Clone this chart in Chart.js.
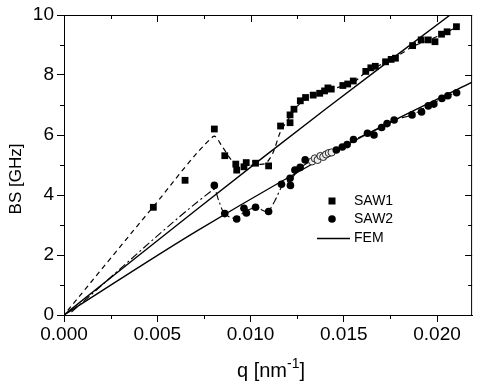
<!DOCTYPE html>
<html><head><meta charset="utf-8">
<script src="https://cdn.jsdelivr.net/npm/chart.js@4/dist/chart.umd.min.js"></script>
<style>html,body{margin:0;padding:0;background:#fff;overflow:hidden}</style>
</head><body>
<canvas id="c" width="477" height="388"></canvas>
<script>
// ---- data ----
const saw1Q  = [0.00479,0.00649,0.00806,0.00862,0.00921,0.00926,0.00965,0.00977,0.01027,0.01097,0.01161,0.01212,0.01212,0.01233,0.01267,0.01295,0.01336,0.01371,0.01397,0.01415,0.01433,0.01495,0.01521,0.01551,0.01618,0.01645,0.01669,0.01724,0.01754,0.01777,0.01869,0.01915,0.01953,0.01989,0.02024,0.02054,0.02104];
const saw1BS = [3.59,4.49,6.20,5.31,5.03,4.83,4.94,5.08,5.06,4.97,6.30,6.41,6.67,6.86,7.14,7.25,7.33,7.39,7.47,7.57,7.53,7.65,7.70,7.80,8.12,8.24,8.29,8.44,8.52,8.56,8.98,9.17,9.17,9.11,9.36,9.44,9.61];
const saw2Q  = [0.00806,0.00862,0.00926,0.00965,0.00978,0.01027,0.01097,0.01166,0.01214,0.01212,0.01238,0.01266,0.01293,0.01460,0.01492,0.01518,0.01552,0.01627,0.01662,0.01703,0.01732,0.01770,0.01866,0.01917,0.01953,0.01983,0.02026,0.02058,0.02105];
const saw2BS = [4.32,3.38,3.20,3.56,3.40,3.59,3.45,4.36,4.32,4.56,4.83,4.92,5.17,5.50,5.60,5.68,5.85,6.06,6.00,6.25,6.38,6.50,6.67,6.77,6.97,7.03,7.22,7.31,7.41];
const saw2OpenQ  = [0.01330,0.01345,0.01360,0.01375,0.01390,0.01405,0.01420,0.01435];
const saw2OpenBS = [5.12,5.22,5.17,5.30,5.27,5.35,5.40,5.42];
const femAQ  = [0, 0.0072, 0.0141, 0.0207, 0.0219];
const femABS = [0, 3.56, 6.90, 10.0, 10.55];
const femBQ  = [0, 0.0072, 0.0157, 0.02188];
const femBBS = [0, 2.83, 5.85, 7.76];
const guide1Q  = [0.0002,0.0048,0.0080,0.0085,0.0090,0.0095,0.0103,0.0108,0.0112,0.0116,0.0120,0.0125,0.0130,0.0137,0.0143,0.0155,0.0162,0.0170,0.0178,0.0187,0.0195,0.0205,0.0212];
const guide1BS = [0.15,3.62,5.95,5.60,5.15,4.95,5.02,5.05,5.40,6.10,6.50,6.95,7.22,7.38,7.52,7.75,8.10,8.35,8.60,8.95,9.15,9.42,9.65];
const guide2Q  = [0.0004,0.0080,0.0083,0.0086,0.0092,0.0097,0.0103,0.0109,0.0113,0.0117,0.0122,0.0127,0.0133,0.0140,0.0146,0.0155,0.0163,0.0170,0.0177,0.0187,0.0195,0.0203,0.0211];
const guide2BS = [0.10,4.18,3.80,3.38,3.22,3.45,3.58,3.45,3.80,4.30,4.55,4.92,5.15,5.32,5.50,5.82,6.06,6.25,6.50,6.68,6.97,7.22,7.45];
const xTicks = [0, 0.005, 0.010, 0.015, 0.020];
const xMinor = [0.0025, 0.0075, 0.0125, 0.0175];
const yTicks = [0, 2, 4, 6, 8, 10];
const yMinor = [1, 3, 5, 7, 9];
const legendLabels = ['SAW1', 'SAW2', 'FEM'];

const FONT = '"Liberation Sans", Arial, sans-serif';
const pts = (q, v) => q.map((x, i) => ({x, y: v[i]}));

const framePlugin = {
  id: 'frame',
  afterDraw(chart) {
    const ctx = chart.ctx, a = chart.chartArea;
    const xs = chart.scales.x, ys = chart.scales.y;
    ctx.save();
    ctx.strokeStyle = '#000'; ctx.lineWidth = 1;
    ctx.beginPath();
    ctx.moveTo(a.left, a.top + 0.5); ctx.lineTo(a.right, a.top + 0.5);
    ctx.moveTo(a.right - 0.5, a.top); ctx.lineTo(a.right - 0.5, a.bottom);
    xMinor.forEach(v => { const p = Math.round(xs.getPixelForValue(v)) + 0.5;
      ctx.moveTo(p, a.bottom); ctx.lineTo(p, a.bottom + 4);
      ctx.moveTo(p, a.top); ctx.lineTo(p, a.top + 4); });
    xTicks.forEach(v => { const p = Math.round(xs.getPixelForValue(v)) + 0.5;
      ctx.moveTo(p, a.top); ctx.lineTo(p, a.top + 7); });
    yMinor.forEach(v => { const p = Math.round(ys.getPixelForValue(v)) + 0.5;
      ctx.moveTo(a.left, p); ctx.lineTo(a.left - 4, p);
      ctx.moveTo(a.right, p); ctx.lineTo(a.right - 4, p); });
    yTicks.forEach(v => { const p = Math.round(ys.getPixelForValue(v)) + 0.5;
      ctx.moveTo(a.right, p); ctx.lineTo(a.right - 7, p); });
    ctx.stroke();

    // axis titles
    ctx.fillStyle = '#000';
    ctx.save();
    ctx.translate(16, 179); ctx.rotate(-Math.PI / 2);
    ctx.font = '17px ' + FONT; ctx.textAlign = 'center'; ctx.textBaseline = 'middle';
    ctx.fillText('BS [GHz]', 0, 0);
    ctx.restore();
    const base = 377;
    ctx.font = '20px ' + FONT; const w1 = ctx.measureText('q [nm').width;
    const w3 = ctx.measureText(']').width;
    ctx.font = '14px ' + FONT; const w2 = ctx.measureText('-1').width;
    let x0 = 271 - (w1 + w2 + w3) / 2;
    ctx.textAlign = 'left'; ctx.textBaseline = 'alphabetic';
    ctx.font = '20px ' + FONT; ctx.fillText('q [nm', x0, base);
    ctx.font = '14px ' + FONT; ctx.fillText('-1', x0 + w1, base - 9);
    ctx.font = '20px ' + FONT; ctx.fillText(']', x0 + w1 + w2, base);

    // legend
    const ds = chart.data.datasets;
    ctx.font = '14px ' + FONT; ctx.textBaseline = 'middle';
    const rows = [201, 219, 238];
    ctx.fillStyle = '#000';
    ctx.fillRect(332 - 3.5, rows[0] - 3.5, 7, 7);
    ctx.beginPath(); ctx.arc(332, rows[1], 3.8, 0, Math.PI * 2); ctx.fill();
    ctx.beginPath(); ctx.lineWidth = ds[3].borderWidth;
    ctx.moveTo(317, rows[2] + 0.5); ctx.lineTo(350, rows[2] + 0.5); ctx.stroke();
    legendLabels.forEach((t, i) => ctx.fillText(t, 354, rows[i]));
    ctx.restore();
  }
};

const lineDs = (label, q, v, dash, w) => ({
  label, data: pts(q, v), showLine: true, borderColor: '#000', borderWidth: w,
  borderDash: dash, pointRadius: 0, pointHoverRadius: 0, fill: false, tension: 0.3, order: 5
});

new Chart(document.getElementById('c'), {
  type: 'scatter',
  data: { datasets: [
    { label: 'SAW1', data: pts(saw1Q, saw1BS), pointStyle: 'rect', pointRadius: 4.8,
      backgroundColor: '#000', borderColor: '#000', borderWidth: 0, order: 1 },
    { label: 'SAW2', data: pts(saw2Q, saw2BS), pointStyle: 'circle', pointRadius: 3.8,
      backgroundColor: '#000', borderColor: '#000', borderWidth: 0, order: 1 },
    { label: 'SAW2 open', data: pts(saw2OpenQ, saw2OpenBS), pointStyle: 'circle', pointRadius: 3.6,
      backgroundColor: '#eee', borderColor: '#111', borderWidth: 0.9, order: 2 },
    lineDs('FEM', femAQ, femABS, [], 1.4),
    lineDs('FEM2', femBQ, femBBS, [], 1.4),
    lineDs('guide1', guide1Q, guide1BS, [5, 4], 1.2),
    lineDs('guide2', guide2Q, guide2BS, [8, 3, 2, 3], 1.1)
  ]},
  options: {
    responsive: false, animation: false, devicePixelRatio: 1,
    layout: { padding: { top: 15, right: 0, left: 0, bottom: 0 } },
    plugins: { legend: { display: false }, tooltip: { enabled: false } },
    scales: {
      x: { type: 'linear', min: 0, max: 0.02188,
        afterBuildTicks: s => { s.ticks = xTicks.map(v => ({value: v})); },
        afterFit: s => { s.height = 73; },
        ticks: { callback: v => v.toFixed(3), font: { family: FONT, size: 19 }, color: '#000', padding: 1, maxRotation: 0, autoSkip: false },
        grid: { display: true, drawOnChartArea: false, drawTicks: true, tickLength: 7, color: '#000', lineWidth: 1 },
        border: { display: true, color: '#000', width: 1 } },
      y: { type: 'linear', min: 0, max: 10,
        afterBuildTicks: s => { s.ticks = yTicks.map(v => ({value: v})); },
        afterFit: s => { s.width = 64; },
        ticks: { callback: v => String(v), font: { family: FONT, size: 19 }, color: '#000', padding: 3, autoSkip: false },
        grid: { display: true, drawOnChartArea: false, drawTicks: true, tickLength: 7, color: '#000', lineWidth: 1 },
        border: { display: true, color: '#000', width: 1 } }
    }
  },
  plugins: [framePlugin]
});
</script>
</body></html>
